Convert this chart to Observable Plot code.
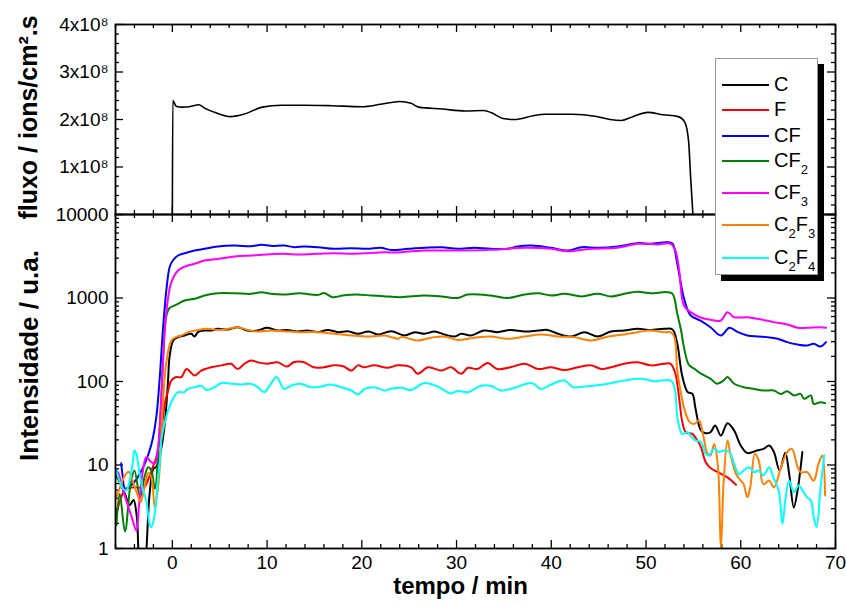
<!DOCTYPE html>
<html>
<head>
<meta charset="utf-8">
<script src="https://cdn.jsdelivr.net/npm/d3@7"></script>
<script src="https://cdn.jsdelivr.net/npm/@observablehq/plot@0.6"></script>
<style>
  body { margin: 0; background: #fff; }
  #wrap { position: relative; width: 846px; height: 605px; overflow: hidden; font-family: "Liberation Sans", Arial, sans-serif; }
  #wrap svg { position: absolute; left: 0; }
  #legend { position: absolute; left: 715px; top: 58px; width: 103px; height: 217px; background: #fff;
            border: 1px solid #999; box-shadow: 6px 6px 0 #000; box-sizing: border-box; }
  .lrow { position: absolute; left: 0; height: 0; }
  .lline { position: absolute; left: 6px; width: 47px; height: 2px; top: -1px; }
  .ltext { position: absolute; left: 58px; top: -12px; font-size: 20px; line-height: 23px; white-space: nowrap; color: #000; }
  .ltext sub { font-size: 13px; vertical-align: baseline; position: relative; top: 7px; }
</style>
</head>
<body>
<div id="wrap"><div id="legend"></div></div>
<script>
// ---------- data ----------
const seriesNames = ["C", "F", "CF", "CF2", "CF3", "C2F3", "C2F4"];
const seriesColors = ["#000000", "#ff0000", "#0000ff", "#008000", "#ff00ff", "#ff8000", "#00ffff"];

const fluxo = [[0,0],[0.05,2.40e8],[0.4,2.28e8],[1.0,2.26e8],[1.8,2.27e8],[2.8,2.31e8],[3.4,2.24e8],[4.6,2.14e8],[6.1,2.06e8],[7.5,2.11e8],[9.5,2.26e8],[11.5,2.30e8],[13.8,2.30e8],[16.8,2.29e8],[20.0,2.27e8],[22.0,2.32e8],[24.0,2.38e8],[25.2,2.34e8],[26.0,2.26e8],[28.5,2.22e8],[30.9,2.18e8],[32.9,2.19e8],[33.7,2.14e8],[34.9,2.02e8],[36.1,2.00e8],[38.1,2.08e8],[39.3,2.11e8],[42.2,2.11e8],[44.6,2.07e8],[46.2,2.00e8],[47.4,1.98e8],[48.6,2.06e8],[50.2,2.15e8],[51.8,2.10e8],[53.4,2.06e8],[54.1,1.94e8],[54.5,1.53e8],[54.7,0.81e8],[54.95,0]];

const seriesC = [[-5.9,7.5],[-5.5,6.0],[-5.0,4.5],[-4.5,3.3],[-4.1,3.8],[-3.75,2.4],[-3.45,0.6],[-3.0,0.4],[-2.75,0.9],[-2.4,4.5],[-2.0,9],[-1.7,9.5],[-1.16,16],[-0.8,31],[-0.45,103],[-0.3,195],[0.1,310],[0.6,340],[1.3,356],[2.0,373],[2.35,346],[2.7,390],[3.4,408],[4.1,408],[4.8,427],[5.9,419],[6.9,447],[7.9,408],[9.0,408],[10.0,439],[11.1,408],[12.1,415],[13.2,397],[14.2,408],[15.4,390],[16.4,415],[17.5,390],[18.5,400],[19.6,373],[20.7,397],[21.7,366],[23.1,400],[24.5,356],[25.6,390],[26.6,373],[27.7,397],[28.7,366],[29.8,346],[30.5,373],[31.5,356],[32.9,408],[34.3,390],[35.7,415],[37.2,397],[38.6,408],[39.6,415],[40.7,373],[42.1,346],[43.5,390],[44.9,346],[46.3,397],[47.7,408],[49.1,427],[50.5,415],[51.9,427],[52.8,420],[53.3,283],[53.8,120],[54.4,74.5],[54.9,71],[55.2,49],[55.8,25.9],[56.3,24],[56.8,24.7],[57.3,29.7],[57.9,22.5],[58.6,31.7],[59.3,25.9],[60.0,17.1],[60.7,13.9],[61.7,14.9],[62.4,15.6],[63.0,17.1],[63.5,14.3],[64.1,8.6],[64.7,14.0],[65.1,8],[65.6,3.1],[66.0,5.0],[66.5,14.3]];

const seriesF = [[-5.9,2.6],[-5.4,4.1],[-4.9,5.2],[-4.0,5.4],[-3.0,5.4],[-2.5,6.9],[-2.2,8.6],[-1.7,12.4],[-1.16,26],[-0.8,54],[-0.45,78],[-0.1,103],[0.4,113],[0.95,113],[1.5,141],[2.35,118],[3.05,135],[4.1,148],[5.2,156],[6.2,163],[6.9,141],[7.6,163],[8.3,178],[9.0,170],[10.0,163],[11.1,170],[12.1,151],[12.8,170],[13.9,170],[14.9,148],[16.0,148],[17.1,156],[18.1,151],[18.9,135],[19.6,156],[20.2,148],[21.3,156],[22.7,146],[23.8,156],[25.2,148],[25.9,124],[27.0,148],[28.4,135],[29.4,148],[30.5,124],[31.2,146],[32.2,141],[33.3,166],[34.3,141],[35.7,148],[37.2,163],[38.6,141],[40.0,148],[41.4,137],[42.8,148],[44.2,156],[45.3,141],[46.3,148],[47.7,163],[49.1,170],[50.5,156],[51.9,163],[52.6,163],[53.1,124],[53.35,85],[53.6,50],[53.8,34],[54.2,24.7],[54.9,23.6],[55.3,20.6],[55.8,16.4],[56.3,10.8],[56.8,9.2],[57.6,8.2],[58.6,7.1],[59.5,5.8]];

const seriesCF = [[-5.4,10.5],[-5.25,7.5],[-5.0,5.2],[-4.5,5.5],[-4.0,6.3],[-3.6,7.3],[-2.9,10.4],[-2.2,17.9],[-1.7,37],[-1.35,103],[-1.0,408],[-0.6,1340],[-0.28,2350],[0.05,2810],[0.6,3230],[1.3,3440],[2.35,3700],[3.4,3880],[4.8,4140],[6.6,4250],[8.3,4170],[9.4,4330],[10.4,4210],[11.8,4250],[12.9,4060],[13.9,4140],[15.4,4060],[17.1,3880],[18.9,3950],[20.6,3880],[22.0,4000],[23.1,3750],[24.9,3880],[26.6,3990],[28.4,4060],[30.1,3880],[31.9,3990],[33.6,3880],[35.4,3880],[36.4,4140],[37.9,4250],[40.0,3990],[41.7,3700],[43.2,4060],[44.9,3990],[47.0,4140],[49.1,4540],[50.5,4460],[52.2,4660],[52.8,4460],[53.3,2570],[54.0,1000],[54.7,620],[55.7,538],[56.8,447],[57.9,356],[58.8,440],[59.7,390],[60.7,356],[61.8,346],[62.8,340],[63.9,325],[64.9,296],[66.0,277],[67.0,270],[67.7,283],[68.4,262],[69.0,296]];

const seriesCF2 = [[-5.9,1.9],[-5.55,4.5],[-5.0,1.6],[-4.4,6],[-4.0,8.6],[-3.4,4.1],[-2.9,7.5],[-2.55,9.4],[-2.2,8.5],[-1.85,5.2],[-1.35,26],[-1.0,163],[-0.65,600],[-0.3,760],[0.1,800],[0.6,852],[1.3,933],[2.35,977],[3.4,1070],[4.8,1140],[6.6,1140],[8.3,1122],[9.4,1175],[10.4,1122],[11.8,1100],[13.4,1140],[15.4,1090],[16.0,1150],[16.9,1023],[18.0,1070],[19.4,1100],[21.0,1070],[22.3,1050],[24.1,1023],[26.6,1070],[28.4,1045],[30.1,1000],[31.2,1100],[33.6,1070],[35.4,1000],[37.2,1100],[38.6,1140],[40.0,1070],[41.4,1122],[43.2,1045],[44.9,1122],[46.3,1045],[47.7,1122],[49.1,1190],[50.5,1140],[52.2,1175],[52.8,1122],[53.3,647],[53.7,408],[54.0,258],[54.5,160],[55.1,142],[55.8,124],[56.8,108],[57.5,94],[58.2,103],[58.6,113],[59.3,94],[60.3,85.5],[61.3,82],[62.4,78],[63.5,78],[64.2,71],[64.9,76.5],[65.6,68],[66.3,71],[66.7,62],[67.4,68],[67.7,54],[68.4,56.5],[68.9,55]];

const seriesCF3 = [[-5.9,8.6],[-5.7,8.0],[-5.2,5.0],[-4.3,2.4],[-3.8,1.64],[-3.5,3.5],[-3.1,8.6],[-2.75,12.4],[-2.2,10.8],[-1.85,10.4],[-1.5,16.4],[-1.16,65],[-0.8,408],[-0.45,1000],[-0.1,1550],[0.6,2135],[1.3,2380],[2.35,2570],[3.4,2810],[4.8,2940],[6.6,3140],[8.3,3230],[10.0,3320],[11.8,3380],[13.4,3320],[15.4,3380],[17.1,3440],[18.9,3380],[20.6,3440],[22.3,3540],[23.1,3500],[26.6,3700],[30.1,3700],[33.6,3770],[37.2,3990],[40.0,3880],[41.7,3630],[44.2,3880],[47.0,3990],[49.1,4460],[51.2,4380],[52.6,4460],[53.1,3700],[53.5,2135],[54.0,813],[54.7,677],[55.7,589],[56.8,548],[57.9,538],[58.6,677],[59.3,589],[60.7,589],[61.8,563],[63.5,514],[64.9,482],[66.0,440],[67.0,440],[68.4,447],[69.0,440]];

const seriesC2F3 = [[-5.9,4.1],[-5.5,5.5],[-5.0,7.5],[-4.6,8.3],[-4.2,6.5],[-3.7,4.5],[-3.35,3.6],[-3.0,5.0],[-2.55,8.0],[-2.2,7.0],[-1.85,3.1],[-1.5,5.5],[-1.3,10.4],[-1.0,54],[-0.65,163],[-0.1,310],[0.5,345],[0.95,356],[1.65,390],[2.7,415],[3.75,427],[4.8,415],[5.9,427],[6.9,447],[7.9,415],[9.0,397],[10.4,408],[11.8,400],[13.5,390],[15.4,390],[17.1,373],[18.9,356],[20.7,346],[22.4,356],[23.1,340],[23.8,325],[24.2,340],[25.9,310],[27.3,335],[28.7,346],[30.1,315],[31.9,335],[33.6,346],[35.4,325],[37.2,346],[38.9,366],[40.7,346],[42.4,340],[44.2,310],[46.0,346],[47.7,366],[49.1,390],[50.5,408],[51.9,390],[52.6,390],[53.0,340],[53.3,135],[53.7,71],[54.0,49],[54.6,32.6],[55.1,31.1],[55.6,34],[56.0,23.6],[56.5,13.6],[56.8,13.0],[57.2,17.9],[57.6,9.4],[57.9,1.0],[58.2,6.5],[58.6,19.7],[58.9,13.6],[59.5,7.8],[60.0,6.5],[60.3,5.9],[60.7,4.1],[61.0,5.4],[61.5,13.6],[61.9,11.3],[62.4,5.9],[63.0,6.5],[63.5,5.4],[64.2,9.0],[64.9,14.3],[65.4,15.6],[66.0,9.4],[66.3,8.2],[67.0,8.2],[67.7,6.5],[68.2,10.3],[68.6,13.0],[68.9,4.3]];

const seriesC2F4 = [[-5.9,8.6],[-5.6,6.5],[-5.2,5.2],[-4.85,5.0],[-4.5,6.5],[-4.15,11.3],[-4.0,14.9],[-3.8,13.6],[-3.45,7.8],[-3.1,5.0],[-2.75,3.76],[-2.4,1.97],[-2.2,1.8],[-1.86,2.6],[-1.5,7.2],[-1.34,10.4],[-1.16,20],[-0.98,26],[-0.45,45],[0.07,62],[0.6,74.5],[1.3,74.5],[1.6,81.5],[2.35,85.5],[3.05,89],[3.6,79],[4.45,85.5],[5.2,96],[6.2,94],[7.3,92],[8.3,94],[9.0,85.5],[9.7,74.5],[10.4,94],[11.0,113],[11.8,81.5],[12.5,89],[13.5,94],[14.6,85.5],[15.7,87],[16.7,92],[17.8,85.5],[18.9,78],[19.6,70],[20.3,81.5],[21.3,85.5],[22.4,78],[23.1,82],[24.2,84],[25.2,79],[26.6,96],[28.0,87],[29.4,72],[30.1,77],[31.2,74.5],[32.6,89],[33.6,89],[34.7,78],[36.1,84],[37.9,96],[38.9,81.5],[40.0,92],[41.4,103],[42.3,85.5],[43.5,87],[46.0,94],[47.7,103],[49.5,108],[50.9,101],[52.6,103],[53.0,85.5],[53.3,37.4],[53.5,29],[53.8,23.6],[54.4,24.7],[54.7,22.5],[55.2,19.7],[55.8,18.8],[56.3,13.6],[56.6,13.0],[57.2,15.6],[57.7,14.3],[58.2,14.9],[58.8,14.3],[59.3,10.3],[59.8,7.7],[60.3,8.6],[60.9,9.4],[61.4,8.2],[61.9,8.6],[62.4,7.5],[63.0,9.4],[63.5,6.8],[64.0,5.0],[64.4,1.97],[64.7,3.76],[65.1,6.5],[65.6,4.7],[66.1,5.7],[66.5,5.0],[67.0,4.1],[67.4,3.76],[67.7,2.37],[68.0,1.8],[68.4,5.0],[68.8,13.0]];

const fluxTicks = [1e8, 2e8, 3e8, 4e8];
const intensTicks = [1, 10, 100, 1000, 10000];
const xTickLabels = [0, 10, 20, 30, 40, 50, 60, 70];
const fluxLabel = "fluxo / ions/cm\u00B2.s";
const intensLabel = "Intensidade / u.a.";
const xLabel = "tempo / min";

// ---------- layout ----------
const W = 846, mL = 115, mR = 11;
const frameW = W - mL - mR;
const xDomain = [-6, 70];
const xMinor = d3.range(-6, 71, 2).filter(d => d % 10 !== 0);
const MAJ = 8, MIN = 4;

const allSeries = [seriesC, seriesF, seriesCF, seriesCF2, seriesCF3, seriesC2F3, seriesC2F4];
const rows = allSeries.flatMap((s, i) => s.map(([t, v]) => ({t, v, name: seriesNames[i]})));

const baseStyle = {background: "transparent", fontFamily: "'Liberation Sans', Arial, sans-serif", fontSize: "19px", color: "black", overflow: "visible"};

function tickMarks(H, yMaj, yMin) {
  const o = {stroke: "black", strokeWidth: 1.3};
  return [
    Plot.tickX(xTickLabels, {x: d => d, insetTop: H - MAJ, ...o}),
    Plot.tickX(xTickLabels, {x: d => d, insetBottom: H - MAJ, ...o}),
    Plot.tickX(xMinor, {x: d => d, insetTop: H - MIN, ...o}),
    Plot.tickX(xMinor, {x: d => d, insetBottom: H - MIN, ...o}),
    Plot.tickY(yMaj, {y: d => d, insetRight: frameW - MAJ, ...o}),
    Plot.tickY(yMaj, {y: d => d, insetLeft: frameW - MAJ, ...o}),
    Plot.tickY(yMin, {y: d => d, insetRight: frameW - MIN, ...o}),
    Plot.tickY(yMin, {y: d => d, insetLeft: frameW - MIN, ...o})
  ];
}

// top panel
const topH = 190;
const fluxMinor = d3.range(0, 4.01e8, 2e7).filter(d => Math.round(d / 1e8 * 10) % 10 !== 0);
const fluxMajor = [0, ...fluxTicks];
const topPlot = Plot.plot({
  width: W, height: 24 + topH + 6, marginTop: 24, marginBottom: 6, marginLeft: mL, marginRight: mR,
  x: {domain: xDomain, axis: null},
  y: {domain: [0, 4e8], axis: null},
  style: baseStyle,
  marks: [
    ...tickMarks(topH, fluxMajor, fluxMinor),
    Plot.axisY({ticks: fluxTicks, label: null, tickSize: 0, tickPadding: 7, tickFormat: d => `${d / 1e8}x10\u2078`, fontSize: 19}),
    Plot.line(fluxo, {x: d => d[0], y: d => d[1], stroke: "black", strokeWidth: 1.6, curve: "monotone-x", clip: true}),
    Plot.frame({stroke: "black", strokeWidth: 1.8}),
    Plot.text([fluxLabel], {text: d => d, frameAnchor: "left", textAnchor: "middle", dx: -87, dy: -2, rotate: -90, fontWeight: "bold", fontSize: 25})
  ]
});

// bottom panel
const botH = 334;
const logMinor = [];
for (let e = 0; e < 4; e++) for (let k = 2; k <= 9; k++) logMinor.push(k * Math.pow(10, e));
const botPlot = Plot.plot({
  width: W, height: 20 + botH + 57, marginTop: 20, marginBottom: 57, marginLeft: mL, marginRight: mR,
  x: {domain: xDomain, axis: null},
  y: {type: "log", domain: [1, 10000], axis: null},
  color: {domain: seriesNames, range: seriesColors},
  style: baseStyle,
  marks: [
    ...tickMarks(botH, intensTicks, logMinor),
    Plot.axisY({ticks: intensTicks, label: null, tickSize: 0, tickPadding: 7, tickFormat: d => String(d), fontSize: 19}),
    Plot.axisX({ticks: xTickLabels, label: null, tickSize: 0, tickPadding: 7, tickFormat: d => String(d), fontSize: 19}),
    Plot.line(rows, {x: "t", y: "v", z: "name", stroke: "name", strokeWidth: 2, curve: "catmull-rom", clip: true}),
    Plot.frame({stroke: "black", strokeWidth: 1.8}),
    Plot.text([intensLabel], {text: d => d, frameAnchor: "left", textAnchor: "middle", dx: -86, dy: -26, rotate: -90, fontWeight: "bold", fontSize: 26}),
    Plot.text([xLabel], {text: d => d, frameAnchor: "bottom", textAnchor: "middle", dx: -15, dy: 45, fontWeight: "bold", fontSize: 24})
  ]
});

const wrap = document.getElementById("wrap");
topPlot.style.top = "0px";
botPlot.style.top = "194px";
wrap.insertBefore(topPlot, wrap.firstChild);
wrap.insertBefore(botPlot, document.getElementById("legend"));

// legend
const legendRowCenters = [26, 51, 77, 102, 134, 166, 199];
const legend = document.getElementById("legend");
seriesNames.forEach((n, i) => {
  const row = document.createElement("div");
  row.className = "lrow";
  row.style.top = legendRowCenters[i] + "px";
  const line = document.createElement("div");
  line.className = "lline";
  line.style.background = seriesColors[i];
  const txt = document.createElement("div");
  txt.className = "ltext";
  txt.innerHTML = n.replace(/(\d)/g, "<sub>$1</sub>");
  row.appendChild(line);
  row.appendChild(txt);
  legend.appendChild(row);
});
</script>
</body>
</html>
